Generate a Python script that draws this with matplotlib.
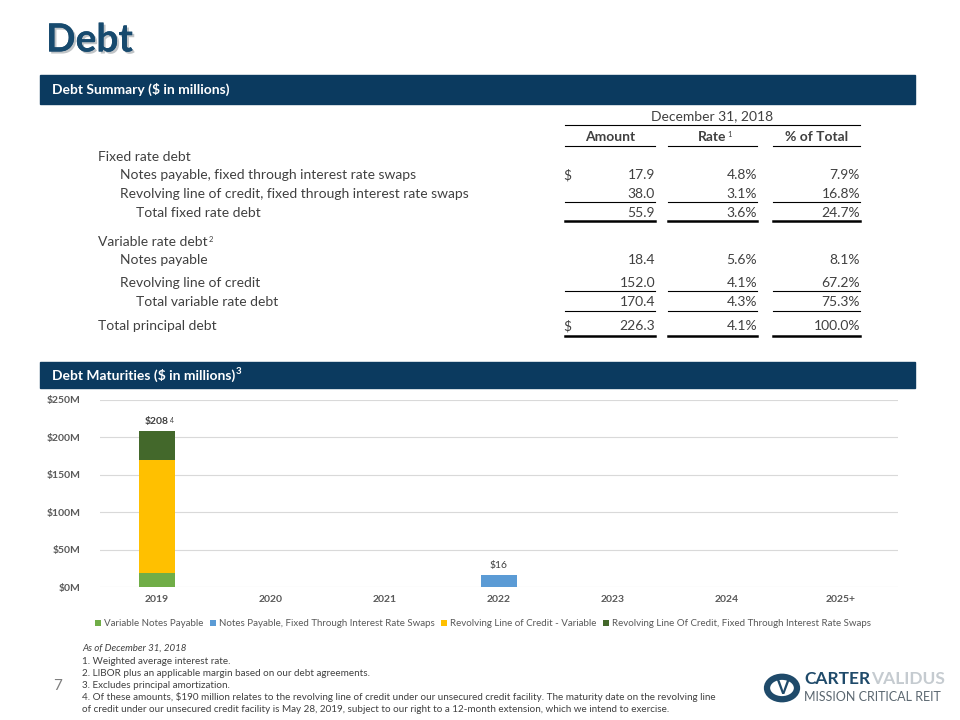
import matplotlib.pyplot as plt
import matplotlib.patheffects as pe
from matplotlib.patches import Rectangle, Circle
from matplotlib.lines import Line2D
from matplotlib.text import Annotation

plt.rcParams['font.family'] = ['Lato', 'DejaVu Sans']

NAVY = '#0B3A5F'
GRAY = '#404040'

# table data
row_labels = ["Fixed rate debt",
              "Notes payable, fixed through interest rate swaps",
              "Revolving line of credit, fixed through interest rate swaps",
              "Total fixed rate debt",
              "Variable rate debt",
              "Notes payable",
              "Revolving line of credit",
              "Total variable rate debt",
              "Total principal debt"]
row_level = [0, 1, 1, 2, 0, 1, 1, 2, 0]
amounts = [None, 17.9, 38.0, 55.9, None, 18.4, 152.0, 170.4, 226.3]
rates = [None, 4.8, 3.1, 3.6, None, 5.6, 4.1, 4.3, 4.1]
pct_total = [None, 7.9, 16.8, 24.7, None, 8.1, 67.2, 75.3, 100.0]
dollar_rows = [1, 8]
col_headers = ["Amount", "Rate", "% of Total"]

# maturity chart data
years = ["2019", "2020", "2021", "2022", "2023", "2024", "2025+"]
variable_notes = [18.4, 0, 0, 0, 0, 0, 0]
fixed_notes = [0, 0, 0, 16, 0, 0, 0]
revolver_variable = [152.0, 0, 0, 0, 0, 0, 0]
revolver_fixed = [38.0, 0, 0, 0, 0, 0, 0]
series_names = ["Variable Notes Payable",
                "Notes Payable, Fixed Through Interest Rate Swaps",
                "Revolving Line of Credit - Variable",
                "Revolving Line Of Credit, Fixed Through Interest Rate Swaps"]
series_colors = ['#70AD47', '#5B9BD5', '#FFC000', '#43682B']
bar_labels = {0: "$208", 3: "$16"}

footnotes = ["1. Weighted average interest rate.",
             "2. LIBOR plus an applicable margin based on our debt agreements.",
             "3. Excludes principal amortization.",
             "4. Of these amounts, $190 million relates to the revolving line of credit under our unsecured credit facility. The maturity date on the revolving line",
             "of credit under our unsecured credit facility is May 28, 2019, subject to our right to a 12-month extension, which we intend to exercise."]

W, H = 960, 720
fig = plt.figure(figsize=(9.6, 7.2), dpi=100)


def fx(x):
    return x / W


def fy(y):
    return 1 - y / H


def text(x, y, s, **kw):
    kw.setdefault('va', 'center')
    kw.setdefault('color', GRAY)
    return fig.text(fx(x), fy(y), s, **kw)


def sup(t, s, size=5.5, color=GRAY, dx=0.5, dy=0, **kw):
    # superscript glued to the upper right corner of another text
    a = Annotation(s, xy=(1, 1), xycoords=t, xytext=(dx, dy), textcoords='offset points',
                   ha='left', va='top', fontsize=size, color=color, **kw)
    fig.add_artist(a)
    return a


def hline(x0, x1, y, lw=0.8, color='black'):
    fig.add_artist(Line2D([fx(x0), fx(x1)], [fy(y), fy(y)], lw=lw, color=color))


def bar(y0, y1, label):
    fig.add_artist(Rectangle((fx(40), fy(y1)), fx(915) - fx(40), fy(y0) - fy(y1),
                             color=NAVY, transform=fig.transFigure))
    return text(52, (y0 + y1) / 2, label, color='white', fontsize=10, fontweight='bold')


# title
text(46, 40, "Debt", fontsize=28, fontweight='bold', color='#174A6E',
     path_effects=[pe.withSimplePatchShadow(offset=(1.5, -1.5), alpha=0.25), pe.Normal()])

bar(75, 104, "Debt Summary ($ in millions)")

# table
FS = 10
cols = [(565, 655), (668, 757), (773, 860)]
text(712, 116, "December 31, 2018", fontsize=FS, ha='center')
hline(565, 860, 125)
for (c0, c1), h in zip(cols, col_headers):
    t = text((c0 + c1) / 2, 137, h, fontsize=FS, fontweight='bold', ha='center')
    if h == "Rate":
        sup(t, "1")
    hline(c0, c1, 146)

row_y = [157, 175, 194, 213, 242, 260, 283, 302, 326]
indent = {0: 98, 1: 120, 2: 136}
for i, lab in enumerate(row_labels):
    y = row_y[i]
    t = text(indent[row_level[i]], y, lab, fontsize=FS)
    if lab == "Variable rate debt":
        sup(t, "2")
    if amounts[i] is not None:
        text(cols[0][1], y, f"{amounts[i]:.1f}", fontsize=FS, ha='right')
        text(cols[1][1], y, f"{rates[i]:.1f}%", fontsize=FS, ha='right')
        text(cols[2][1], y, f"{pct_total[i]:.1f}%", fontsize=FS, ha='right')
    if i in dollar_rows:
        text(563, y, "$", fontsize=FS)

for c0, c1 in cols:
    hline(c0, c1, 202)
    hline(c0, c1, 221, lw=1.8)
    hline(c0, c1, 291)
    hline(c0, c1, 311)
    hline(c0, c1, 336, lw=1.8)

t = bar(362, 388, "Debt Maturities ($ in millions)")
sup(t, "3", size=7, color='white', fontweight='bold', dy=1)

# maturity chart
ax = fig.add_axes([fx(100), fy(587), fx(898) - fx(100), fy(400) - fy(587)])
x = range(len(years))
bottom = [0] * len(years)
handles = []
stack = [variable_notes, fixed_notes, revolver_variable, revolver_fixed]
for vals, name, col in zip(stack, series_names, series_colors):
    b = ax.bar(x, vals, width=0.32, bottom=bottom, color=col, label=name)
    handles.append(b)
    bottom = [b0 + v for b0, v in zip(bottom, vals)]
for k, s in bar_labels.items():
    t = ax.text(k, bottom[k] + 7, s, ha='center', va='bottom', fontsize=7.5, color=GRAY,
                fontweight='bold' if k == 0 else 'normal')
    if k == 0:
        ax.annotate("4", xy=(1, 1), xycoords=t, xytext=(1, 0), textcoords='offset points',
                    ha='left', va='top', fontsize=5, color=GRAY)

ax.set_xlim(-0.5, len(years) - 0.5)
ax.set_ylim(0, 250)
ax.set_yticks([0, 50, 100, 150, 200, 250])
ax.set_yticklabels([f"${v}M" for v in [0, 50, 100, 150, 200, 250]], fontweight='bold')
ax.set_xticks(list(x))
ax.set_xticklabels(years, fontweight='bold')
ax.tick_params(axis='both', length=0, labelsize=7.5, labelcolor='#595959')
ax.tick_params(axis='y', pad=14)
ax.tick_params(axis='x', pad=6)
ax.grid(axis='y', color='#D9D9D9', lw=0.8)
ax.set_axisbelow(True)
for sp in ax.spines.values():
    sp.set_visible(False)

fig.legend(handles=handles, labels=series_names, loc='center', ncol=4,
           bbox_to_anchor=(fx(483), fy(624)), frameon=False, fontsize=7,
           handlelength=0.6, handleheight=0.6, handletextpad=0.3, columnspacing=0.7,
           labelcolor='#595959')

# footnotes
text(82, 648, "As of December 31, 2018", fontsize=7, style='italic')
for i, line in enumerate(footnotes):
    text(82, 661 + 12 * i, line, fontsize=7.1)
text(53, 686, "7", fontsize=11, color='#7F7F7F')

# logo
LOGO = '#1F4A6A'
fig.add_artist(Circle((fx(782), fy(688)), 15 / W, transform=fig.transFigure,
                      fill=False, lw=4.5, color=LOGO))
text(782, 689, "V", fontsize=13, fontweight='bold', color=LOGO, ha='center')
t = text(804, 679, "CARTER", fontsize=12.5, fontweight='bold', color=LOGO)
fig.add_artist(Annotation("VALIDUS", xy=(1, 0.5), xycoords=t, xytext=(0.5, 0),
                          textcoords='offset points', va='center', fontsize=12.5,
                          fontweight='bold', color='#C5CBD0'))
text(804, 697, "MISSION CRITICAL REIT", fontsize=9, color='#5B6770')

fig.savefig("out.png", dpi=100)
